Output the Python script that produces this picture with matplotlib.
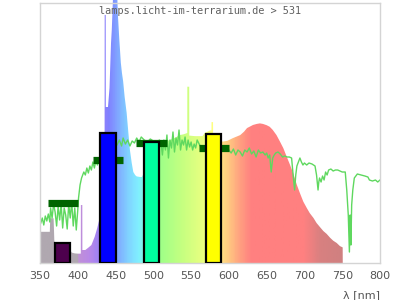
import numpy as np
import matplotlib
matplotlib.use("Agg")
import matplotlib.pyplot as plt
from matplotlib.colors import LinearSegmentedColormap

# lamp spectrum (relative, 1.0 = top of frame)
lamp_nm = [350, 355, 360, 363, 363.5, 368, 369, 380, 390, 392, 396, 400, 403, 404, 404.1, 406,
           406.1, 410, 413.5, 418, 422.4, 425.8, 429, 432, 435, 435.5, 435.6, 437, 437.1, 440,
           442, 444, 445, 447, 449, 451, 453, 455, 457, 458.5, 460, 462, 464.7, 467, 469, 471.4,
           473.5, 476, 478, 482, 485, 488, 495, 502, 508, 515, 522, 529, 535, 540, 544.9, 545,
           547.5, 547.6, 555, 565, 568, 575, 576.9, 577, 579, 579.1, 588, 592, 598, 605, 610,
           615, 620, 624, 628, 632, 637, 641, 645, 650, 654, 658, 663, 667.6, 672, 676.5, 681,
           685, 690, 694, 698.5, 703, 707, 712, 716, 720.6, 725, 729.4, 734, 738, 742.7, 747,
           750.6, 750.7]
lamp_val = [0.12, 0.12, 0.12, 0.12, 0.172, 0.172, 0.082, 0.07, 0.05, 0.04, 0.037, 0.036, 0.036,
            0.036, 0.223, 0.223, 0.05, 0.05, 0.058, 0.069, 0.101, 0.135, 0.173, 0.3, 0.45, 0.5,
            0.954, 0.954, 0.6, 0.6, 0.673, 0.846, 0.896, 1.05, 1.2, 1.15, 0.96, 0.858, 0.77,
            0.73, 0.70, 0.64, 0.577, 0.5, 0.435, 0.385, 0.35, 0.338, 0.333, 0.331, 0.331, 0.35,
            0.41, 0.44, 0.462, 0.468, 0.473, 0.482, 0.492, 0.495, 0.5, 0.678, 0.678, 0.49,
            0.488, 0.488, 0.5, 0.51, 0.51, 0.542, 0.542, 0.49, 0.47, 0.467, 0.47, 0.48, 0.486,
            0.492, 0.505, 0.519, 0.525, 0.531, 0.535, 0.537, 0.535, 0.53, 0.524, 0.512, 0.492,
            0.467, 0.442, 0.409, 0.377, 0.346, 0.30, 0.269, 0.236, 0.212, 0.192, 0.173, 0.154,
            0.138, 0.123, 0.112, 0.097, 0.086, 0.077, 0.065, 0.06, 0.0]

# daylight reference (green line), pixel rows of the 260 px high frame
sun_nm = [351, 353, 355, 357, 359, 361, 363, 364, 366, 368, 370, 372, 374, 376, 378, 380, 382,
          384, 386, 388, 390, 392, 394, 396, 398, 400, 401, 403, 405, 408, 410, 412, 414, 416,
          418, 420, 422, 424, 426, 428, 432, 436, 440, 444, 448, 452, 455, 458, 460, 463, 466,
          469, 472, 475, 478, 481, 484, 488, 492, 496, 500, 504, 508, 510, 512, 514, 516, 518,
          520, 522, 524, 526, 528, 530, 532, 534, 536, 538, 540, 542, 544, 546, 548, 550, 552,
          554, 556, 558, 562, 566, 570, 575, 580, 585, 590, 595, 600, 603, 606, 609, 612, 615,
          618, 621, 624, 627, 630, 633, 636, 639, 642, 645, 648, 650, 652, 654, 656, 658, 660,
          662, 665, 668, 671, 674, 677, 680, 683, 685, 687, 688.5, 690, 692, 694, 696, 698, 700,
          703, 706, 710, 714, 716, 718, 719, 720, 722, 724, 726, 728, 730, 732, 735, 738, 741,
          744, 747, 750, 754, 756, 758, 759.5, 760.5, 761.5, 762.5, 764, 766, 770, 775, 780,
          784, 786, 790, 794, 797, 800]
sun_px = [223, 218, 225, 216, 221, 214, 222, 208, 218, 204, 212, 226, 206, 220, 204, 228, 208,
          215, 229, 204, 218, 202, 226, 208, 230, 210, 198, 185, 178, 172, 175, 168, 173, 166,
          170, 162, 168, 160, 165, 158, 155, 152, 150, 148, 146, 145, 140, 146, 138, 144, 140,
          146, 141, 143, 138, 142, 137, 140, 142, 139, 141, 143, 140, 142, 155, 140, 150, 135,
          158, 140, 148, 132, 152, 138, 145, 130, 150, 140, 145, 137, 150, 140, 147, 142, 150,
          144, 148, 140, 146, 148, 145, 147, 146, 148, 147, 149, 150, 153, 149, 155, 150, 152,
          156, 150, 152, 148, 154, 151, 157, 150, 153, 152, 155, 153, 158, 155, 172, 158, 155,
          153, 152, 154, 157, 156, 157, 157, 158, 175, 190, 175, 166, 162, 158, 162, 165, 163,
          165, 163, 164, 166, 175, 190, 182, 178, 182, 176, 180, 172, 175, 170, 169, 171, 170,
          170, 171, 172, 172, 190, 215, 252, 215, 245, 205, 190, 178, 174, 175, 176, 177, 180,
          181, 180, 182, 180]
sun_val = [(263 - p) / 260 for p in sun_px]

# measured bands
band_nm = [380, 440, 497.5, 580]
band_val = [0.078, 0.50, 0.465, 0.497]
band_colors = ["#4d004d", "#0000ff", "#00ffa0", "#ffff00"]
mark_val = [0.229, 0.398, 0.46, 0.444]

# pale spectrum colours
spec_stops = [(350, "#b0a8b0"), (398, "#b0a8b0"), (401, "#c090d8"), (415, "#b888e8"),
              (430, "#9880f8"), (440, "#8080ff"), (450, "#80a0ff"), (465, "#80d0ff"),
              (480, "#80f0ff"), (495, "#80ffc0"), (510, "#a0ff88"), (540, "#c8ff80"),
              (565, "#e8ff80"), (578, "#ffff80"), (590, "#ffe080"), (600, "#ffc880"),
              (615, "#ffa080"), (630, "#ff8080"), (700, "#ff8080"), (722, "#d88080"),
              (750, "#d08080"), (800, "#d08080")]
cmap = LinearSegmentedColormap.from_list(
    "spec", [((w - 350) / 450, c) for w, c in spec_stops])

fig = plt.figure(figsize=(4, 3), dpi=100)
ax = fig.add_axes([0.1, 0.1233, 0.85, 0.8667])
ax.set_xlim(350, 800)
ax.set_ylim(0, 1)

# spectrum as gradient clipped to the lamp curve
fill = ax.fill_between(lamp_nm, lamp_val, 0, facecolor="none",
                       edgecolor="none", clip_on=False)
grad = np.linspace(0, 1, 450).reshape(1, -1)
im = ax.imshow(grad, cmap=cmap, aspect="auto", extent=[350, 800, 0, 1.3],
               origin="lower", zorder=1)
im.set_clip_path(fill.get_paths()[0], ax.transData)
im.set_clip_box(fig.bbox)
ax.set_xlim(350, 800)
ax.set_ylim(0, 1)

ax.plot(sun_nm, sun_val, color="#5fd85f", lw=1, zorder=2)

for w, m in zip(band_nm, mark_val):
    ax.hlines(m, w - 20, w + 20, color="#006400", lw=5.2, zorder=3)
ax.bar(band_nm, band_val, width=20, color=band_colors, edgecolor="black",
       linewidth=1.6, zorder=4)

for s in ax.spines.values():
    s.set_color("#d4d4d4")
    s.set_linewidth(1)
ax.set_xticks(range(350, 801, 50))
ax.set_yticks([])
ax.tick_params(axis="x", length=0, labelsize=8, labelcolor="#555555", pad=6)
ax.set_facecolor("white")

fig.text(0.5, 0.963, "lamps.licht-im-terrarium.de > 531", ha="center", va="center",
         family="DejaVu Sans Mono", fontsize=7.4, color="#606060", zorder=10)
fig.text(0.95, 0.017, "λ [nm]", ha="right", va="center", fontsize=8, color="#555555")

fig.savefig("out.png", dpi=100)
